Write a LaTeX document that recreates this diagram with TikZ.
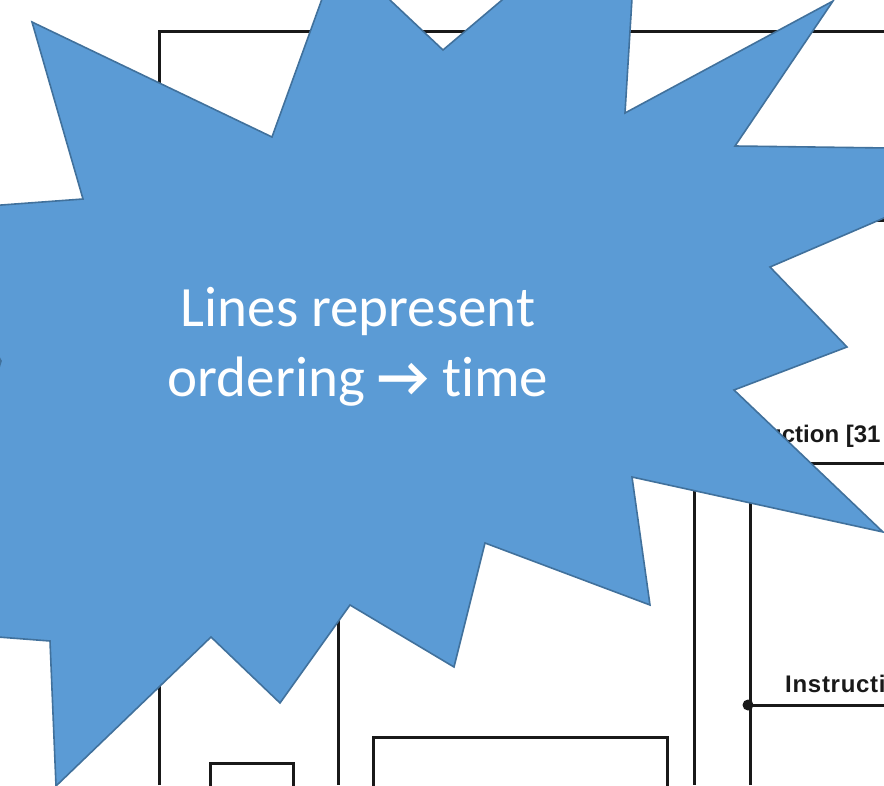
\documentclass[tikz,border=0pt]{standalone}
\usepackage{fontspec}
\setmainfont{Carlito}[Ligatures=NoCommon]
\newfontfamily\labelfont{Liberation Sans}
\usepackage{tikz}
\definecolor{blastblue}{RGB}{91,155,213}
\definecolor{blastedge}{RGB}{65,113,156}
\definecolor{wiregrey}{RGB}{25,25,25}
\tikzset{
  wire/.style      = {draw=wiregrey, line width=3pt},
  blast/.style     = {fill=blastblue, draw=blastedge, line width=1.6pt, line join=miter},
  blasttext/.style = {text=white, align=center, inner sep=0pt,
                      font=\fontsize{57}{70}\selectfont},
  sig/.style       = {anchor=base west, inner sep=0pt, text=wiregrey,
                      font=\labelfont\bfseries\fontsize{24}{28}\selectfont},
}

\begin{document}
\begin{tikzpicture}[x=1pt, y=-1pt]
\useasboundingbox (0,0) rectangle (884,785);
\clip (0,0) rectangle (884,785);

% datapath behind the callout
\draw[wire] (159,785) -- (159,31) -- (884,31);
\draw[wire] (600,220) -- (884,220);
\draw[wire] (338,400) -- (338,785);
\draw[wire] (694,400) -- (694,785);
\draw[wire] (750,785) -- (750,463) -- (884,463);
\draw[wire] (750,705) -- (884,705);
\fill[wiregrey] (748,705) circle (5.5);
\draw[wire] (210,800) rectangle (293,763) ;
\draw[wire] (373,800) rectangle (667,737);
\node[sig] (instrhi) at (767,442) {uction [31};
\node[sig] (instr) at (785,692) {\addfontfeature{LetterSpace=3}Instructi};

% the callout
\draw[blast] (32,22) -- (272,137) -- (339,-48) -- (443,50) -- (639,-116)
  -- (625,113) -- (833,1) -- (735,146) -- (1042,150) -- (770,267)
  -- (847,347) -- (734,390) -- (883,532) -- (632,477) -- (650,605)
  -- (485,543) -- (454,667) -- (350,605) -- (280,703) -- (211,637)
  -- (56,786) -- (50,641) -- (-80,631) -- (1,361) -- (-80,211)
  -- (83,199) -- cycle;
\node[blasttext] (note) at (358,347) {Lines represent\\ordering {\bfseries →} time};

\end{tikzpicture}
\end{document}
